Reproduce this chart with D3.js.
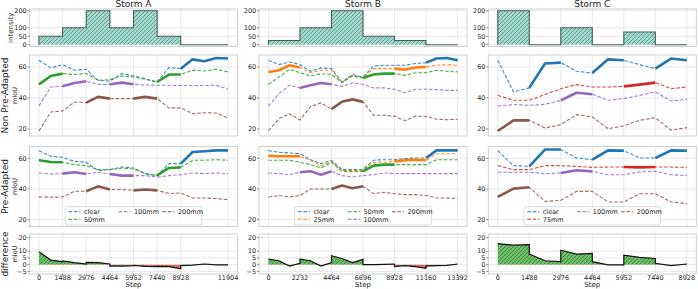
<!DOCTYPE html>
<html>
<head>
<meta charset="UTF-8">
<script src="https://cdn.jsdelivr.net/npm/d3@7"></script>
<style>
body { margin: 0; background: #fff; }
svg { display: block; font-family: "DejaVu Sans", sans-serif; }
.grid line { stroke: #e2e2e2; stroke-width: 0.8; }
.frame { fill: none; stroke: #c4c4c4; stroke-width: 0.8; }
.tklabel { font-size: 6.5px; fill: #262626; }
.tkmark { stroke: #555; stroke-width: 0.7; }
</style>
</head>
<body>
<svg id="chart" width="698" height="289"></svg>
<script>
// sampling interval of the curves (steps)
var STEP = 744;

// ---- Storm A ----
var boundsA = [0, 1488, 2976, 4464, 5952, 7440, 8928, 11904];
var intensityA = [50, 100, 200, 100, 200, 50, 0];
var nonA_clear = [64.3, 59.4, 61.5, 57.9, 58.5, 51.4, 50.8, 55.7, 54.2, 52.5, 50.3, 59.6, 58.9, 64.9, 63.7, 65.8, 65.4];
var nonA_50 = [48.8, 54.2, 55.7, 55.1, 55.7, 51.4, 51.8, 54.2, 53.5, 52.0, 50.3, 55.1, 55.1, 57.9, 57.4, 58.5, 56.8];
var nonA_100 = [34.8, 47.1, 47.5, 49.7, 50.8, 48.8, 48.8, 49.9, 48.8, 48.4, 48.2, 48.2, 48.0, 48.0, 48.0, 48.2, 45.6];
var nonA_200 = [18.7, 31.0, 31.6, 37.4, 37.0, 40.7, 39.6, 39.6, 39.6, 40.7, 39.6, 33.6, 33.6, 29.9, 30.5, 30.3, 27.1];
var preA_clear = [65.0, 61.3, 60.7, 58.0, 57.4, 52.0, 52.6, 54.3, 53.7, 50.0, 48.7, 56.5, 56.5, 64.1, 64.6, 65.2, 65.2];
var preA_50 = [58.7, 57.6, 57.4, 55.9, 55.2, 52.6, 52.6, 53.5, 53.0, 50.0, 48.9, 53.7, 54.1, 58.7, 58.7, 59.1, 58.7];
var preA_100 = [50.4, 49.8, 50.0, 50.9, 49.8, 50.9, 49.8, 48.7, 48.7, 48.7, 47.8, 48.7, 49.3, 50.4, 50.0, 50.4, 50.0];
var preA_200 = [34.8, 34.6, 34.8, 38.5, 38.5, 41.7, 39.6, 39.6, 39.1, 39.6, 39.1, 37.0, 37.4, 34.1, 34.1, 33.7, 33.0];
var diffA = [[9.5, 3.4, 2.2], [2.7, 1.5, 0.5], [1.7, 1.5, 0.5], [-1.0, -1.0, -0.7], [-0.5, -1.2, -1.5], [-1.2, -1.5, -3.0], [-0.7, -0.3, 0.5, -0.2, -0.2]];

// ---- Storm B ----
var boundsB = [0, 2232, 4464, 6696, 8928, 11160, 13392];
var intensityB = [25, 100, 200, 50, 25, 0];
var nonB_clear = [64.3, 61.5, 63.2, 61.5, 57.2, 59.4, 58.9, 50.3, 55.1, 53.5, 60.6, 61.1, 61.1, 61.1, 62.2, 62.8, 65.4, 65.8, 64.3];
var nonB_25 = [56.8, 57.9, 61.1, 59.6, 56.3, 57.9, 57.9, 49.9, 54.6, 52.9, 58.9, 58.9, 58.9, 58.3, 59.6, 60.0, 61.1, 61.5, 61.1];
var nonB_50 = [48.8, 53.5, 58.5, 56.3, 54.2, 55.7, 55.2, 49.9, 54.2, 52.9, 55.1, 55.7, 55.7, 54.6, 56.3, 56.3, 57.9, 57.2, 56.8];
var nonB_100 = [34.8, 42.8, 48.2, 46.5, 48.2, 49.7, 48.8, 47.5, 49.7, 48.8, 46.5, 46.5, 45.6, 43.4, 45.6, 45.6, 45.4, 44.9, 44.9];
var nonB_200 = [18.9, 26.7, 29.9, 25.8, 34.4, 36.8, 32.8, 37.6, 39.1, 37.5, 28.9, 28.9, 28.2, 25.4, 28.3, 28.2, 26.3, 26.0, 26.3];
var preB_clear = [65.0, 63.9, 63.5, 63.0, 59.1, 56.5, 58.7, 52.6, 52.6, 52.8, 58.7, 59.1, 59.1, 59.8, 60.2, 60.2, 65.2, 65.2, 65.2];
var preB_25 = [61.7, 61.3, 61.3, 61.3, 58.7, 55.2, 58.0, 52.0, 52.0, 52.2, 57.4, 57.4, 58.0, 58.7, 59.1, 58.7, 63.0, 63.0, 63.0];
var preB_50 = [58.7, 58.7, 58.7, 57.4, 55.9, 53.7, 57.4, 51.5, 51.5, 51.5, 55.2, 55.9, 55.9, 55.9, 55.9, 55.9, 59.1, 59.1, 59.1];
var preB_100 = [50.4, 50.0, 49.3, 50.9, 51.5, 49.3, 51.5, 48.7, 47.8, 48.7, 49.3, 50.4, 50.0, 50.0, 50.0, 50.0, 50.0, 50.0, 50.0];
var preB_200 = [34.8, 35.7, 34.8, 35.7, 40.0, 40.0, 40.0, 42.2, 40.4, 41.7, 37.0, 37.8, 37.0, 36.3, 36.3, 35.7, 34.1, 34.1, 33.7];
var diffB = [[4.1, 2.9, -1.0, 1.0], [4.1, 2.9, -1.0, 1.5], [6.6, 4.6, 1.5, 3.9], [0.0, 0.0, 0.2, 0.5], [-1.5, -0.7, -1.5, -2.7], [-1.0, -0.7, -0.5, 0.5]];

// ---- Storm C ----
var boundsC = [0, 1488, 2976, 4464, 5952, 7440, 8928];
var intensityC = [200, 0, 100, 0, 75, 0];
var nonC_clear = [64.3, 43.9, 46.5, 62.2, 62.8, 57.2, 56.1, 64.9, 64.3, 61.5, 58.9, 65.4, 64.3];
var nonC_75 = [41.7, 38.5, 38.5, 42.2, 46.0, 48.6, 47.1, 47.1, 47.5, 48.6, 49.9, 46.0, 47.1];
var nonC_100 = [34.8, 35.7, 35.3, 35.9, 38.5, 43.4, 42.4, 38.5, 39.6, 41.7, 43.9, 38.1, 39.1];
var nonC_200 = [18.7, 25.6, 25.6, 20.7, 22.8, 29.3, 27.8, 20.2, 22.0, 25.6, 27.3, 19.2, 20.9];
var preC_clear = [65.0, 55.2, 54.8, 65.7, 65.7, 60.2, 59.1, 65.2, 65.0, 60.2, 60.2, 65.2, 65.0];
var preC_75 = [55.2, 52.6, 52.6, 55.2, 55.2, 54.8, 54.1, 54.3, 54.3, 54.1, 54.3, 54.3, 54.1];
var preC_100 = [50.9, 50.9, 50.9, 50.0, 50.4, 52.2, 51.5, 49.3, 49.3, 51.1, 51.5, 49.3, 48.7];
var preC_200 = [34.8, 40.2, 41.1, 31.9, 32.5, 38.4, 38.4, 31.5, 31.5, 36.9, 36.9, 31.5, 30.4];
var diffC = [[15.6, 14.4, 14.9], [7.8, 2.9, 2.2], [10.7, 7.8, 8.3], [2.2, -0.2, -0.2], [7.1, 5.4, 4.6], [1.0, -0.7, 0.5]];

var intensityTicks = [0, 50, 100, 200];
var miouTicks = [20, 40, 60];
var diffTicks = [-5, 0, 5, 10, 20];

var colours = {"clear": "#1f77b4", "25mm": "#ff7f0e", "50mm": "#2ca02c", "75mm": "#d62728", "100mm": "#9467bd", "200mm": "#8c564b"};
var mmOf = {"clear": 0, "25mm": 25, "50mm": 50, "75mm": 75, "100mm": 100, "200mm": 200};

var storms = [
  {title: "Storm A", bounds: boundsA, intensity: intensityA, diff: diffA,
   series: [["clear", nonA_clear, preA_clear], ["50mm", nonA_50, preA_50], ["100mm", nonA_100, preA_100], ["200mm", nonA_200, preA_200]]},
  {title: "Storm B", bounds: boundsB, intensity: intensityB, diff: diffB,
   series: [["clear", nonB_clear, preB_clear], ["25mm", nonB_25, preB_25], ["50mm", nonB_50, preB_50], ["100mm", nonB_100, preB_100], ["200mm", nonB_200, preB_200]]},
  {title: "Storm C", bounds: boundsC, intensity: intensityC, diff: diffC,
   series: [["clear", nonC_clear, preC_clear], ["75mm", nonC_75, preC_75], ["100mm", nonC_100, preC_100], ["200mm", nonC_200, preC_200]]}
];

var colLeft = [29.5, 259, 488.3], colW = 208;
var rows = {intensity: [9, 46.5], non: [55, 136], pre: [146.5, 226.5], diff: [234, 274]};

var svg = d3.select("#chart");
var defs = svg.append("defs");
function hatch(id, bg, fg) {
  var p = defs.append("pattern").attr("id", id)
    .attr("patternUnits", "userSpaceOnUse").attr("width", 4).attr("height", 4);
  p.append("rect").attr("width", 4).attr("height", 4).attr("fill", bg);
  p.append("path").attr("d", "M-1,1 l2,-2 M0,4 l4,-4 M3,5 l2,-2")
    .attr("stroke", fg).attr("stroke-width", 0.6);
}
hatch("hInt", "#a0dacc", "#4f756c");
hatch("hPos", "#6abf66", "#2e6a2c");
hatch("hNeg", "#ee6b6b", "#8d2b2b");

function fmt(d) { return d < 0 ? "\u2212" + (-d) : String(d); }

function panel(x, y, yticks, xticks, showX) {
  var g = svg.append("g");
  var x0 = x.range()[0], x1 = x.range()[1], y0 = y.range()[0], y1 = y.range()[1];
  var grid = g.append("g").attr("class", "grid");
  grid.selectAll(".gx").data(xticks).enter().append("line")
    .attr("x1", function(d){ return x(d); }).attr("x2", function(d){ return x(d); })
    .attr("y1", y1).attr("y2", y0);
  grid.selectAll(".gy").data(yticks).enter().append("line")
    .attr("y1", function(d){ return y(d); }).attr("y2", function(d){ return y(d); })
    .attr("x1", x0).attr("x2", x1);
  g.append("rect").attr("class", "frame")
    .attr("x", x0).attr("y", y1).attr("width", x1 - x0).attr("height", y0 - y1);
  // y ticks
  var ax = svg.append("g");
  ax.selectAll(".ym").data(yticks).enter().append("line").attr("class", "tkmark")
    .attr("x1", x0 - 2).attr("x2", x0)
    .attr("y1", function(d){ return y(d); }).attr("y2", function(d){ return y(d); });
  ax.selectAll(".yl").data(yticks).enter().append("text").attr("class", "tklabel")
    .attr("x", x0 - 2.8).attr("y", function(d){ return y(d) + 2.3; })
    .attr("text-anchor", "end").text(fmt);
  if (showX) {
    ax.selectAll(".xm").data(xticks).enter().append("line").attr("class", "tkmark")
      .attr("x1", function(d){ return x(d); }).attr("x2", function(d){ return x(d); })
      .attr("y1", y0).attr("y2", y0 + 2);
    ax.selectAll(".xl").data(xticks).enter().append("text").attr("class", "tklabel")
      .attr("x", function(d){ return x(d); }).attr("y", 279.8)
      .attr("text-anchor", "middle").text(fmt);
  }
  return g;
}

function vlabel(text, bx, cy, size) {
  svg.append("text").attr("transform", "translate(" + bx + "," + cy + ") rotate(-90)")
    .attr("text-anchor", "middle").attr("font-size", size).attr("fill", "#222").text(text);
}

storms.forEach(function(s, i) {
  var left = colLeft[i];
  var maxStep = s.bounds[s.bounds.length - 1];
  var x = d3.scaleLinear().domain([-0.05 * maxStep, 1.05 * maxStep]).range([left, left + colW]);
  var steps = d3.range(0, maxStep + 1, STEP);

  svg.append("text").attr("x", left + colW / 2).attr("y", 7.2).attr("text-anchor", "middle")
    .attr("font-size", 9).attr("fill", "#222").text(s.title);

  // intensity
  var yI = d3.scaleLinear().domain([-10, 210]).range([rows.intensity[1], rows.intensity[0]]);
  var gI = panel(x, yI, intensityTicks, s.bounds, false);
  var stepPts = [];
  s.intensity.forEach(function(v, k){ stepPts.push([s.bounds[k], v], [s.bounds[k + 1], v]); });
  gI.append("path").attr("fill", "url(#hInt)")
    .attr("d", d3.area().x(function(d){ return x(d[0]); }).y0(yI(0)).y1(function(d){ return yI(d[1]); })(stepPts));
  gI.append("path").attr("fill", "none").attr("stroke", "#43605a").attr("stroke-width", 1.1)
    .attr("d", d3.line().x(function(d){ return x(d[0]); }).y(function(d){ return yI(d[1]); })
      ([[0, 0]].concat(stepPts, [[maxStep, 0]])));

  // mIoU rows
  [["non", 1], ["pre", 2]].forEach(function(r) {
    var y = d3.scaleLinear().domain([15.5, 67.7]).range([rows[r[0]][1], rows[r[0]][0]]);
    var g = panel(x, y, miouTicks, s.bounds, false);
    var line = d3.line().x(function(d){ return x(d[0]); }).y(function(d){ return y(d[1]); });
    s.series.forEach(function(se) {
      var pts = se[r[1]].map(function(v, j){ return [steps[j], v]; });
      g.append("path").attr("fill", "none").attr("stroke", colours[se[0]])
        .attr("stroke-width", 1.1).attr("stroke-dasharray", "3.6,1.8").attr("opacity", 0.85)
        .attr("d", line(pts));
    });
    s.series.forEach(function(se) {
      var pts = se[r[1]].map(function(v, j){ return [steps[j], v]; });
      s.intensity.forEach(function(v, k) {
        if (v !== mmOf[se[0]]) return;
        var seg = pts.filter(function(d){ return d[0] >= s.bounds[k] && d[0] <= s.bounds[k + 1]; });
        g.append("path").attr("fill", "none").attr("stroke", colours[se[0]])
          .attr("stroke-width", 2.6).attr("stroke-linejoin", "round")
          .attr("d", line(seg));
      });
    });

    if (r[0] === "pre") {
      var items = s.series.map(function(se){ return se[0]; });
      var nrows = Math.ceil(items.length / 3);
      var per = [0, 0, 0], rest = items.length;
      for (var c = 0; c < 3; c++) { per[c] = Math.min(nrows, rest - (2 - c)); rest -= per[c]; }
      var lw = 136.7, lh = 18.3, lx = left + colW / 2 - lw / 2, ly = rows.pre[1] - 1.5 - lh;
      var lg = svg.append("g");
      lg.append("rect").attr("x", lx).attr("y", ly).attr("width", lw).attr("height", lh)
        .attr("rx", 2).attr("fill", "#fff").attr("fill-opacity", 0.85).attr("stroke", "#d0d0d0").attr("stroke-width", 0.8);
      var colX = [3.3, 53.3, 97.3], idx = 0;
      for (var c2 = 0; c2 < 3; c2++) {
        for (var rr = 0; rr < per[c2]; rr++) {
          var name = items[idx++];
          var cy = ly + 5 + rr * 7.6;
          lg.append("line").attr("x1", lx + colX[c2]).attr("x2", lx + colX[c2] + 12)
            .attr("y1", cy).attr("y2", cy).attr("stroke", colours[name])
            .attr("stroke-width", 1.1).attr("stroke-dasharray", "3.6,1.8");
          lg.append("text").attr("x", lx + colX[c2] + 15.5).attr("y", cy + 2.3)
            .attr("font-size", 6.5).attr("fill", "#222").text(name);
        }
      }
    }
  });

  // difference row
  var yD = d3.scaleLinear().domain([-6.9, 22.7]).range([rows.diff[1], rows.diff[0]]);
  var gD = panel(x, yD, diffTicks, s.bounds, true);
  var dpts = [];
  s.diff.forEach(function(vals, k){
    vals.forEach(function(v, j){ dpts.push([s.bounds[k] + j * STEP, v]); });
  });
  var cid = "clip" + i;
  defs.append("clipPath").attr("id", cid + "p").append("rect")
    .attr("x", left).attr("y", rows.diff[0]).attr("width", colW).attr("height", yD(0) - rows.diff[0]);
  defs.append("clipPath").attr("id", cid + "n").append("rect")
    .attr("x", left).attr("y", yD(0)).attr("width", colW).attr("height", rows.diff[1] - yD(0));
  var area = d3.area().x(function(d){ return x(d[0]); }).y0(yD(0)).y1(function(d){ return yD(d[1]); });
  gD.append("path").attr("fill", "url(#hPos)").attr("clip-path", "url(#" + cid + "p)").attr("d", area(dpts));
  gD.append("path").attr("fill", "url(#hNeg)").attr("clip-path", "url(#" + cid + "n)").attr("d", area(dpts));
  gD.append("path").attr("fill", "none").attr("stroke", "#111").attr("stroke-width", 1.2)
    .attr("d", d3.line().x(function(d){ return x(d[0]); }).y(function(d){ return yD(d[1]); })(dpts));

  svg.append("text").attr("x", left + colW / 2).attr("y", 287.3).attr("text-anchor", "middle")
    .attr("font-size", 7).attr("fill", "#222").text("Step");
});

// row labels
vlabel("intensity", 12.5, (rows.intensity[0] + rows.intensity[1]) / 2, 7);
vlabel("Non Pre-Adapted", 8.3, (rows.non[0] + rows.non[1]) / 2, 9);
vlabel("mIoU", 17.3, (rows.non[0] + rows.non[1]) / 2, 6.5);
vlabel("Pre-Adapted", 8.3, (rows.pre[0] + rows.pre[1]) / 2, 9);
vlabel("mIoU", 17.3, (rows.pre[0] + rows.pre[1]) / 2, 6.5);
vlabel("difference", 8.3, (rows.diff[0] + rows.diff[1]) / 2, 9);
vlabel("mIoU", 17.3, (rows.diff[0] + rows.diff[1]) / 2, 6.5);
</script>
</body>
</html>
